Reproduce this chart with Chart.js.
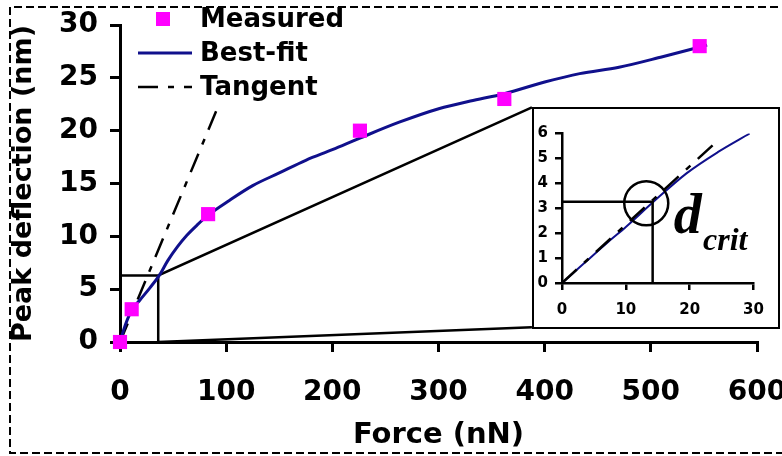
<!DOCTYPE html>
<html lang="en">
<head>
    <meta charset="UTF-8">
    <title>Peak deflection vs Force</title>
    <script src="https://cdn.jsdelivr.net/npm/chart.js"></script>
    <style>
        body { margin: 0; background: #fff; }
        #wrap { position: relative; width: 782px; height: 456px; overflow: hidden; }
        #main { position: absolute; left: 0; top: 0; }
        #insetBox {
            position: absolute; left: 532px; top: 107px; width: 248px; height: 222px;
            box-sizing: border-box; border: 2px solid #000; background: #fff;
        }
        #inset { display: block; }
    </style>
</head>
<body>
<div id="wrap">
    <canvas id="main" width="782" height="456"></canvas>
    <div id="insetBox"><canvas id="inset" width="244" height="218"></canvas></div>
</div>

<script>
    // measured points
    const measuredForce = [0, 11, 83, 226, 362, 546];
    const measuredDefl = [0, 3.1, 12.1, 20.0, 23.0, 28.0];

    // best-fit curve
    const fitForce = [0, 5, 11, 19, 28, 37, 45, 54, 63, 73, 83, 103, 125, 150, 175, 200, 226, 263, 301, 330, 362, 400, 433, 470, 511, 553];
    const fitDefl = [0, 1.6, 3.0, 4.0, 5.1, 6.3, 7.7, 9.0, 10.1, 11.1, 12.0, 13.4, 14.8, 16.0, 17.2, 18.2, 19.3, 20.8, 22.1, 22.8, 23.5, 24.6, 25.4, 26.0, 27.0, 28.1];

    // tangent at origin
    const tangentForce = [0, 92];
    const tangentDefl = [0, 22.2];

    // zoom box and the lines to the inset corners
    const zoomTopForce = [0, 36, 388];
    const zoomTopDefl = [6.3, 6.3, 22.2];
    const zoomBottomForce = [36, 36, 388];
    const zoomBottomDefl = [6.3, 0, 1.4];

    // inset
    const insetFitForce = [0, 3.5, 7, 10, 14.2, 19.5, 24.4, 29.4];
    const insetFitDefl = [0, 0.8, 1.6, 2.25, 3.23, 4.4, 5.25, 6.0];
    const insetTangentForce = [0, 24];
    const insetTangentDefl = [0, 5.62];
    const critForce = [0, 14.2, 14.2];
    const critDefl = [3.26, 3.26, 0];
    const circleForce = [13.2];
    const circleDefl = [3.2];

    const pts = (xs, ys) => xs.map((x, i) => ({ x: x, y: ys[i] }));

    const FONT = '"DejaVu Sans", sans-serif';
    const BLUE = '#10108c';
    const MAGENTA = '#ff00ff';
    const DASHDOT = [20, 10, 6, 10];

    // dashed frame round the figure + legend in the top-left corner
    const mainExtras = {
        id: 'mainExtras',
        afterDraw(chart) {
            const ctx = chart.ctx;
            ctx.save();
            ctx.strokeStyle = '#000';
            ctx.lineWidth = 2;
            ctx.setLineDash([8, 4]);
            ctx.beginPath();
            ctx.moveTo(790, 7); ctx.lineTo(10, 7); ctx.lineTo(10, 453); ctx.lineTo(790, 453);
            ctx.stroke();
            ctx.setLineDash([]);

            const items = chart.data.datasets.filter(d => d.label);
            ctx.font = 'bold 26px ' + FONT;
            ctx.textBaseline = 'middle';
            items.forEach((d, i) => {
                const y = 19 + i * 34;
                if (d.showLine) {
                    ctx.strokeStyle = d.borderColor;
                    ctx.lineWidth = d.borderWidth;
                    ctx.setLineDash(d.borderDash || []);
                    ctx.beginPath();
                    ctx.moveTo(138, y); ctx.lineTo(192, y);
                    ctx.stroke();
                    ctx.setLineDash([]);
                } else {
                    ctx.fillStyle = d.backgroundColor;
                    ctx.fillRect(156, y - 7, 14, 14);
                }
                ctx.fillStyle = '#000';
                ctx.fillText(d.label, 200, y + 1);
            });
            ctx.restore();
        }
    };

    new Chart(document.getElementById('main'), {
        type: 'scatter',
        data: {
            datasets: [
                { label: 'Measured', data: pts(measuredForce, measuredDefl), showLine: false, clip: false,
                  pointStyle: 'rect', pointRadius: 10, backgroundColor: MAGENTA, borderColor: MAGENTA, borderWidth: 0 },
                { label: 'Best-fit', data: pts(fitForce, fitDefl), showLine: true, borderColor: BLUE,
                  borderWidth: 3, pointRadius: 0, cubicInterpolationMode: 'monotone' },
                { label: 'Tangent', data: pts(tangentForce, tangentDefl), showLine: true, borderColor: '#000',
                  borderWidth: 2.5, borderDash: DASHDOT, pointRadius: 0 },
                { data: pts(zoomTopForce, zoomTopDefl), showLine: true, borderColor: '#000', borderWidth: 2.5, pointRadius: 0 },
                { data: pts(zoomBottomForce, zoomBottomDefl), showLine: true, borderColor: '#000', borderWidth: 2.5, pointRadius: 0 }
            ]
        },
        options: {
            responsive: false,
            animation: false,
            events: [],
            layout: { padding: { top: 25, right: 25, left: 0, bottom: 0 } },
            plugins: { legend: { display: false }, tooltip: { enabled: false } },
            scales: {
                x: {
                    type: 'linear', min: 0, max: 600,
                    ticks: { stepSize: 100, color: '#000', padding: 24, maxRotation: 0,
                             font: { family: FONT, size: 28, weight: 'bold' } },
                    grid: { drawOnChartArea: false, drawTicks: true, tickLength: 10, color: '#000', lineWidth: 3 },
                    border: { display: true, color: '#000', width: 3 },
                    title: { display: true, text: 'Force (nN)', color: '#000',
                             font: { family: FONT, size: 29, weight: 'bold', lineHeight: 1.2 },
                             padding: { top: 0, bottom: 3 } },
                    afterFit(s) { s.height = 114; s.paddingLeft = 0; s.paddingRight = 0; }
                },
                y: {
                    type: 'linear', min: 0, max: 30,
                    ticks: { stepSize: 5, color: '#000', padding: 12,
                             font: { family: FONT, size: 28, weight: 'bold' } },
                    grid: { drawOnChartArea: false, drawTicks: true, tickLength: 10, color: '#000', lineWidth: 3 },
                    border: { display: true, color: '#000', width: 3 },
                    title: { display: true, text: 'Peak deflection (nm)', color: '#000',
                             font: { family: FONT, size: 27, weight: 'bold', lineHeight: 1.2 },
                             padding: { top: 8, bottom: 0 } },
                    afterFit(s) { s.width = 120; s.paddingTop = 0; s.paddingBottom = 0; }
                }
            }
        },
        plugins: [mainExtras]
    });

    // d_crit label next to the circle
    const critLabel = {
        id: 'critLabel',
        afterDraw(chart) {
            const ctx = chart.ctx;
            const xs = chart.scales.x, ys = chart.scales.y;
            ctx.save();
            ctx.fillStyle = '#000';
            ctx.textBaseline = 'alphabetic';
            ctx.font = 'italic bold 56px "Liberation Serif", serif';
            ctx.fillText('d', xs.getPixelForValue(17.5), ys.getPixelForValue(2.0));
            ctx.font = 'italic bold 32px "Liberation Serif", serif';
            ctx.fillText('crit', xs.getPixelForValue(22.1), ys.getPixelForValue(1.31));
            ctx.restore();
        }
    };

    new Chart(document.getElementById('inset'), {
        type: 'scatter',
        data: {
            datasets: [
                { data: pts(circleForce, circleDefl), showLine: false, pointStyle: 'circle', pointRadius: 22,
                  borderColor: '#000', borderWidth: 2.5, backgroundColor: 'rgba(0,0,0,0)' },
                { data: pts(critForce, critDefl), showLine: true, borderColor: '#000', borderWidth: 2.5, pointRadius: 0 },
                { data: pts(insetTangentForce, insetTangentDefl), showLine: true, borderColor: '#000',
                  borderWidth: 2.5, borderDash: DASHDOT, pointRadius: 0 },
                { data: pts(insetFitForce, insetFitDefl), showLine: true, borderColor: BLUE,
                  borderWidth: 2, pointRadius: 0, cubicInterpolationMode: 'monotone' }
            ]
        },
        options: {
            responsive: false,
            animation: false,
            events: [],
            layout: { padding: { top: 14, right: 15, left: 0, bottom: 0 } },
            plugins: { legend: { display: false }, tooltip: { enabled: false } },
            scales: {
                x: {
                    type: 'linear', min: 0, max: 30,
                    ticks: { stepSize: 10, color: '#000', padding: 11, maxRotation: 0,
                             font: { family: FONT, size: 15, weight: 'bold' } },
                    grid: { drawOnChartArea: false, drawTicks: true, tickLength: 7, color: '#000', lineWidth: 2.5 },
                    border: { display: true, color: '#000', width: 2.5 },
                    afterFit(s) { s.height = 44; s.paddingLeft = 0; s.paddingRight = 0; }
                },
                y: {
                    type: 'linear', min: 0, max: 6,
                    ticks: { stepSize: 1, color: '#000', padding: 7,
                             font: { family: FONT, size: 15, weight: 'bold' } },
                    grid: { drawOnChartArea: false, drawTicks: true, tickLength: 7, color: '#000', lineWidth: 2.5 },
                    border: { display: true, color: '#000', width: 2.5 },
                    afterFit(s) { s.width = 28; s.paddingTop = 0; s.paddingBottom = 0; }
                }
            }
        },
        plugins: [critLabel]
    });
</script>
</body>
</html>
